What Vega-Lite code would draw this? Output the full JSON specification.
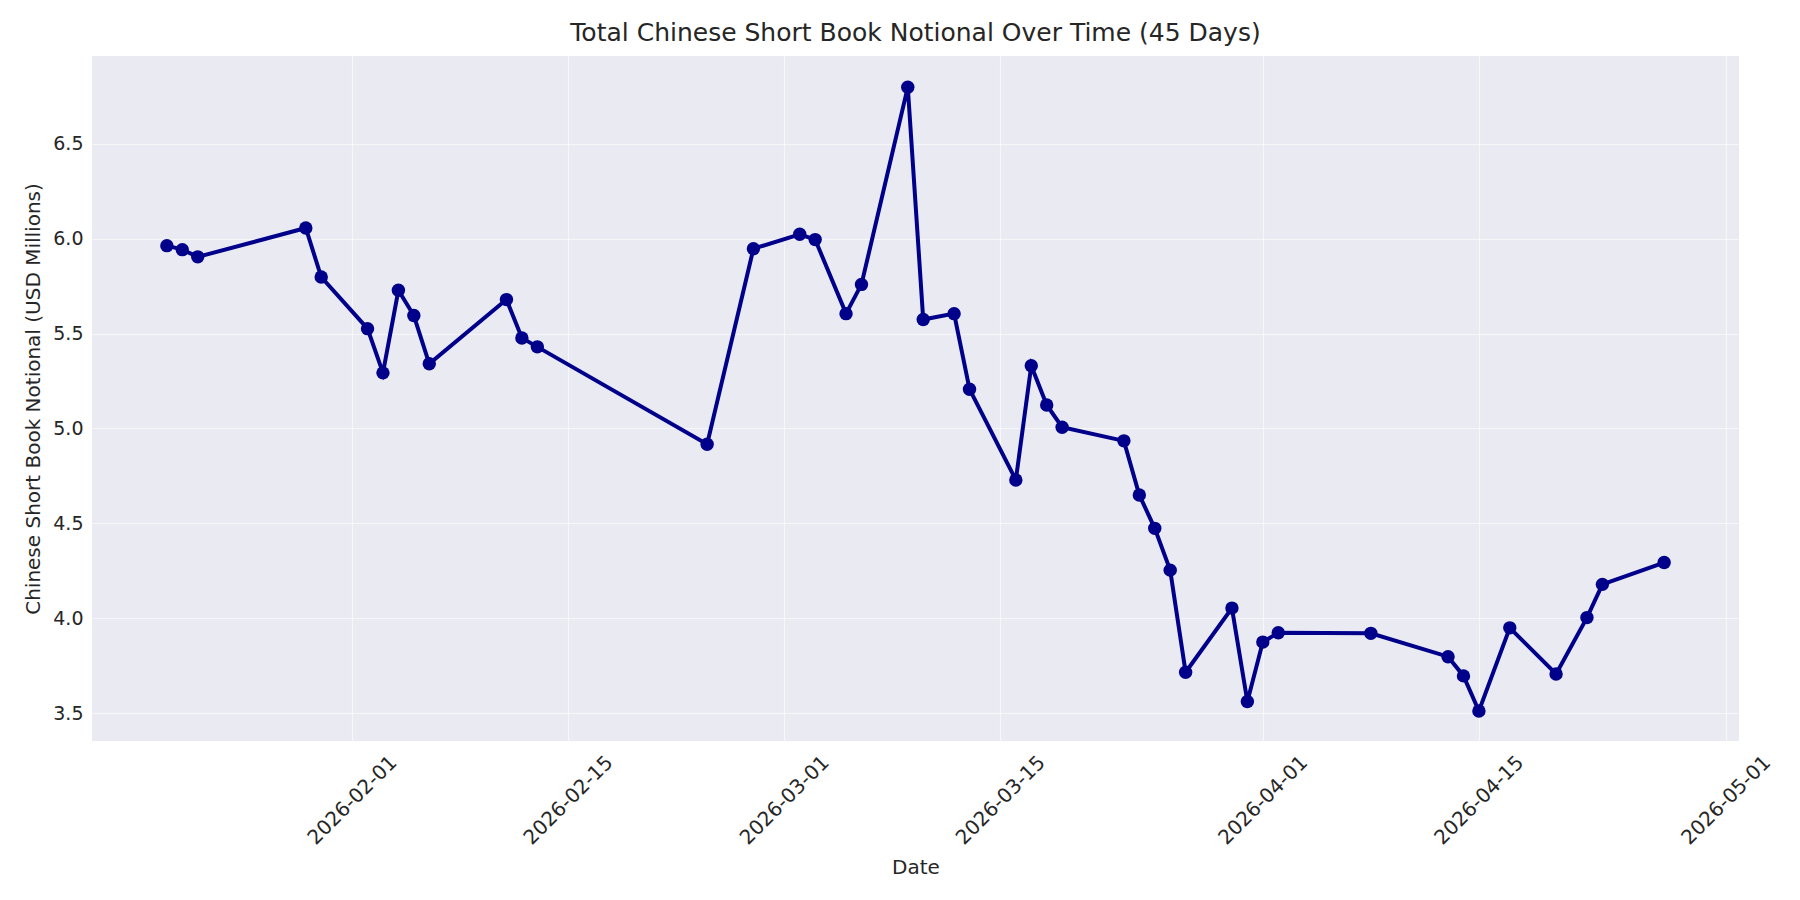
{
  "$schema": "https://vega.github.io/schema/vega-lite/v6.json",
  "width": 1647,
  "height": 685,
  "autosize": {"type": "none"},
  "padding": {"left": 92, "top": 56, "right": 61, "bottom": 159},
  "background": "white",
  "title": {
    "text": "Total Chinese Short Book Notional Over Time (45 Days)",
    "font": "DejaVu Sans",
    "fontSize": 25,
    "fontWeight": "normal",
    "color": "#262626",
    "anchor": "middle",
    "frame": "group",
    "baseline": "alphabetic",
    "offset": 13,
    "dy": 23
  },
  "config": {
    "view": {"fill": "#EAEAF2", "stroke": null},
    "font": "DejaVu Sans",
    "axis": {
      "gridColor": "#ffffff",
      "gridOpacity": 0.6,
      "gridWidth": 1.2,
      "domain": false,
      "ticks": false,
      "labelColor": "#262626",
      "titleColor": "#262626",
      "labelFont": "DejaVu Sans",
      "titleFont": "DejaVu Sans",
      "titleFontWeight": "normal"
    }
  },
  "data": {
    "values": [
      {"date": "2026-01-20", "value": 5.963},
      {"date": "2026-01-21", "value": 5.942},
      {"date": "2026-01-22", "value": 5.904},
      {"date": "2026-01-29", "value": 6.056},
      {"date": "2026-01-30", "value": 5.798},
      {"date": "2026-02-02", "value": 5.526},
      {"date": "2026-02-03", "value": 5.293},
      {"date": "2026-02-04", "value": 5.728},
      {"date": "2026-02-05", "value": 5.595},
      {"date": "2026-02-06", "value": 5.341},
      {"date": "2026-02-11", "value": 5.679},
      {"date": "2026-02-12", "value": 5.477},
      {"date": "2026-02-13", "value": 5.43},
      {"date": "2026-02-24", "value": 4.917},
      {"date": "2026-02-27", "value": 5.947},
      {"date": "2026-03-02", "value": 6.023},
      {"date": "2026-03-03", "value": 5.995},
      {"date": "2026-03-05", "value": 5.605},
      {"date": "2026-03-06", "value": 5.759},
      {"date": "2026-03-09", "value": 6.798},
      {"date": "2026-03-10", "value": 5.574},
      {"date": "2026-03-12", "value": 5.605},
      {"date": "2026-03-13", "value": 5.207},
      {"date": "2026-03-16", "value": 4.729},
      {"date": "2026-03-17", "value": 5.331},
      {"date": "2026-03-18", "value": 5.124},
      {"date": "2026-03-19", "value": 5.007},
      {"date": "2026-03-23", "value": 4.935},
      {"date": "2026-03-24", "value": 4.65},
      {"date": "2026-03-25", "value": 4.474},
      {"date": "2026-03-26", "value": 4.254},
      {"date": "2026-03-27", "value": 3.716},
      {"date": "2026-03-30", "value": 4.054},
      {"date": "2026-03-31", "value": 3.562},
      {"date": "2026-04-01", "value": 3.875},
      {"date": "2026-04-02", "value": 3.924},
      {"date": "2026-04-08", "value": 3.921},
      {"date": "2026-04-13", "value": 3.798},
      {"date": "2026-04-14", "value": 3.697},
      {"date": "2026-04-15", "value": 3.512},
      {"date": "2026-04-17", "value": 3.95},
      {"date": "2026-04-20", "value": 3.707},
      {"date": "2026-04-22", "value": 4.004},
      {"date": "2026-04-23", "value": 4.179},
      {"date": "2026-04-27", "value": 4.294}
    ]
  },
  "encoding": {
    "x": {
      "field": "date",
      "type": "temporal",
      "scale": {
        "type": "utc",
        "domain": [
          {"year": 2026, "month": 1, "date": 15, "hours": 3, "minutes": 36, "utc": true},
          {"year": 2026, "month": 5, "date": 1, "hours": 20, "minutes": 24, "utc": true}
        ]
      },
      "axis": {
        "title": "Date",
        "values": [
          {"year": 2026, "month": 2, "date": 1, "utc": true},
          {"year": 2026, "month": 2, "date": 15, "utc": true},
          {"year": 2026, "month": 3, "date": 1, "utc": true},
          {"year": 2026, "month": 3, "date": 15, "utc": true},
          {"year": 2026, "month": 4, "date": 1, "utc": true},
          {"year": 2026, "month": 4, "date": 15, "utc": true},
          {"year": 2026, "month": 5, "date": 1, "utc": true}
        ],
        "labelExpr": "utcFormat(datum.value, '%Y-%m-%d')",
        "labelAngle": -45,
        "labelAlign": "center",
        "labelBaseline": "middle",
        "labelPadding": 59,
        "labelFontSize": 20,
        "labelOverlap": false,
        "labelFlush": false,
        "titleFontSize": 20,
        "titleY": 132,
        "titleBaseline": "alphabetic",
        "grid": true
      }
    },
    "y": {
      "field": "value",
      "type": "quantitative",
      "scale": {"domain": [3.354, 6.962], "nice": false, "zero": false},
      "axis": {
        "title": "Chinese Short Book Notional (USD Millions)",
        "values": [3.5, 4.0, 4.5, 5.0, 5.5, 6.0, 6.5],
        "format": ".1f",
        "labelFontSize": 19,
        "labelPadding": 9,
        "titleFontSize": 20,
        "titleX": -53,
        "titleY": 342.5,
        "titleAngle": -90,
        "titleAlign": "center",
        "titleBaseline": "alphabetic",
        "grid": true
      }
    }
  },
  "layer": [
    {"mark": {"type": "line", "color": "#00008B", "strokeWidth": 4}},
    {"mark": {"type": "circle", "color": "#00008B", "size": 180, "opacity": 1}}
  ]
}
